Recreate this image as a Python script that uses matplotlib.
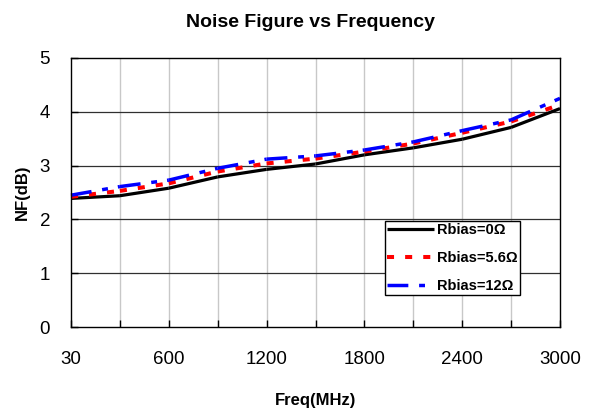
import numpy as np
import matplotlib
matplotlib.use('Agg')
import matplotlib.pyplot as plt

plt.rcParams['font.family'] = ['Liberation Sans', 'DejaVu Sans']

# frequency points (MHz), evenly spaced categories like the excel sheet
freq = [30, 300, 600, 900, 1200, 1500, 1800, 2100, 2400, 2700, 3000]
nf_0 = [2.39, 2.44, 2.58, 2.79, 2.93, 3.03, 3.20, 3.33, 3.49, 3.71, 4.06]
nf_56 = [2.42, 2.53, 2.67, 2.89, 3.04, 3.13, 3.26, 3.41, 3.61, 3.82, 4.13]
nf_12 = [2.45, 2.61, 2.73, 2.95, 3.12, 3.18, 3.29, 3.44, 3.65, 3.85, 4.25]
shown = [30, 600, 1200, 1800, 2400, 3000]

fig = plt.figure(figsize=(5.93, 4.16), dpi=100)
ax = fig.add_axes([71/593, 1-327/416, 489/593, 269/416])

pos = np.arange(len(freq))

series = [
    (nf_0, 'Rbias=0\u03a9', 'black', 2.3, '-'),
    (nf_56, 'Rbias=5.6\u03a9', '#ff0000', 2.9, (0, (1.75, 2.75))),
    (nf_12, 'Rbias=12\u03a9', '#0000ff', 2.5, (0, (6, 3.1, 1.7, 2.9))),
]

handles = []
for vals, lab, col, lw, ls in series:
    # excel restarts the dash pattern at every point, so draw segment by segment
    for i in range(len(pos) - 1):
        ln, = ax.plot(pos[i:i+2], vals[i:i+2], color=col, lw=lw, ls=ls,
                      solid_capstyle='butt', dash_capstyle='butt', clip_on=False)
        if i == 0:
            handles.append(ln)
            ln.set_label(lab)

ax.set_xlim(0, len(freq) - 1)
ax.set_ylim(0, 5)
ax.set_xticks(pos)
ax.set_xticklabels([str(f) if f in shown else '' for f in freq])
ax.set_yticks(range(6))

for x in pos[1:-1]:
    ax.axvline(x, color='#c8c8c8', lw=1.0, zorder=0)
for y in range(1, 5):
    ax.axhline(y, color='#303030', lw=0.9, zorder=0)

ax.tick_params(axis='both', direction='in', length=5, width=1, labelsize=13.5)
ax.tick_params(axis='y', pad=15)
ax.tick_params(axis='x', pad=17)
for s in ax.spines.values():
    s.set_linewidth(1.0)
    s.set_color('black')

ax.set_title('Noise Figure vs Frequency', fontsize=14, fontweight='bold', pad=22, x=0.49)
ax.set_xlabel('Freq(MHz)', fontsize=12, fontweight='bold', labelpad=18)
ax.set_ylabel('NF(dB)', fontsize=12, fontweight='bold', labelpad=7)

leg = ax.legend(handles=handles, loc='upper left', bbox_to_anchor=(0.642, 0.394),
                fancybox=False, framealpha=1, edgecolor='black',
                prop={'weight': 'bold', 'size': 10.5}, handlelength=3.2,
                handletextpad=0.2, borderpad=0.15, labelspacing=0.94, borderaxespad=0)
leg.get_frame().set_linewidth(1.0)

fig.savefig('out.png', dpi=100)
